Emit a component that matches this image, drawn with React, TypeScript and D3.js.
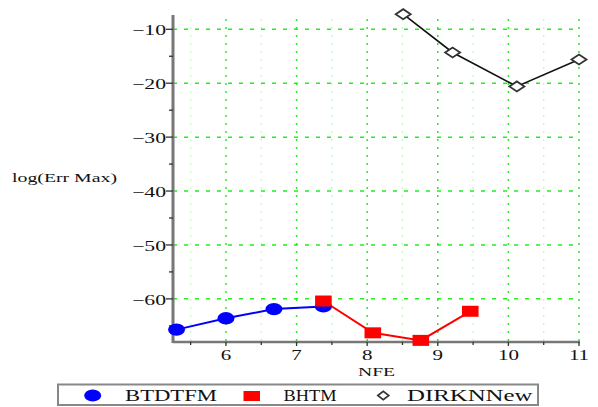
import React from 'react';
import * as d3 from 'd3';

const btdtfmX = [5.3, 6.0, 6.68, 7.38];
const btdtfmY = [-65.7, -63.6, -61.9, -61.4];
const bhtmX = [7.38, 8.08, 8.76, 9.46];
const bhtmY = [-60.4, -66.3, -67.7, -62.3];
const dirkX = [8.51, 9.21, 10.12, 11.0];
const dirkY = [-7.2, -14.3, -20.6, -15.6];
const xTicks = [6, 7, 8, 9, 10, 11];
const xMinorTicks = [5.5, 6.5, 7.5, 8.5, 9.5, 10.5];
const yTicks = [-10, -20, -30, -40, -50, -60];
const yMinorTicks = [-15, -25, -35, -45, -55, -65];
const seriesNames = ['BTDTFM', 'BHTM', 'DIRKNNew'];
const xLabel = 'NFE';
const yLabel = 'log(Err Max)';

const FONT = '"Liberation Serif", "Times New Roman", serif';
const SX = 1.5;

export default function App() {
  const x = d3.scaleLinear().domain([5.25, 11]).range([173, 579]);
  const y = d3.scaleLinear().domain([-68, -7.2]).range([342, 14.2]);
  const [y0, y1] = y.range();
  const [x0, x1] = x.range();
  const line = d3
    .line<[number, number]>()
    .x((d) => x(d[0]))
    .y((d) => y(d[1]));
  const s1 = btdtfmX.map((v, i) => [v, btdtfmY[i]] as [number, number]);
  const s2 = bhtmX.map((v, i) => [v, bhtmY[i]] as [number, number]);
  const s3 = dirkX.map((v, i) => [v, dirkY[i]] as [number, number]);
  const diamond = (cx: number, cy: number, w: number, h: number) =>
    `M${cx - w / 2},${cy} L${cx},${cy - h / 2} L${cx + w / 2},${cy} L${cx},${cy + h / 2} Z`;

  return (
    <svg
      width={598}
      height={407}
      style={{ position: 'absolute', left: 0, top: 0, background: '#fff' }}
      fontFamily={FONT}
    >
      <rect x={0} y={0} width={598} height={407} fill="#fff" />
      {/* minor vertical grid */}
      {xMinorTicks.map((t) => (
        <line key={'mv' + t} x1={x(t)} x2={x(t)} y1={19} y2={y0} stroke="#bbffbb" strokeWidth={1.3} strokeDasharray="2,6" />
      ))}
      {/* major vertical grid */}
      {xTicks.map((t) => (
        <line key={'v' + t} x1={x(t)} x2={x(t)} y1={19} y2={y0} stroke="#22ee22" strokeWidth={1.5} strokeDasharray="2,6" />
      ))}
      {/* major horizontal grid */}
      {yTicks.map((t) => (
        <line key={'h' + t} x1={x0} x2={x1 + 1} y1={y(t)} y2={y(t)} stroke="#22ee22" strokeWidth={1.5} strokeDasharray="4,7" />
      ))}
      {/* axes */}
      <line x1={x0} x2={x0} y1={15} y2={y0 + 1} stroke="#777" strokeWidth={3} />
      <line x1={x0} x2={x1 + 1} y1={y0} y2={y0} stroke="#777" strokeWidth={2.5} />
      {yTicks.map((t) => (
        <g key={'yt' + t}>
          <line x1={x0 - 7} x2={x0} y1={y(t)} y2={y(t)} stroke="#333" strokeWidth={1.3} />
          <text
            transform={`translate(${x0 - 7},${y(t) + 6}) scale(${SX},1)`}
            textAnchor="end"
            fontSize={14.5}
            fill="#111"
          >
            {'\u2212' + Math.abs(t)}
          </text>
        </g>
      ))}
      {yMinorTicks.map((t) => (
        <line key={'ymt' + t} x1={x0 - 4} x2={x0} y1={y(t)} y2={y(t)} stroke="#333" strokeWidth={1.3} />
      ))}
      {xTicks.map((t) => (
        <g key={'xt' + t}>
          <line x1={x(t)} x2={x(t)} y1={y0} y2={y0 + 4} stroke="#333" strokeWidth={1.3} />
          <text
            transform={`translate(${x(t)},${y0 + 18}) scale(${SX},1)`}
            textAnchor="middle"
            fontSize={14}
            fill="#111"
          >
            {t}
          </text>
        </g>
      ))}
      {xMinorTicks.map((t) => (
        <line key={'xmt' + t} x1={x(t)} x2={x(t)} y1={y0} y2={y0 + 3} stroke="#333" strokeWidth={1.3} />
      ))}
      {/* axis labels */}
      <text x={358} y={376} fontSize={13.5} textLength={37} lengthAdjust="spacingAndGlyphs" fill="#111">
        {xLabel}
      </text>
      <text x={12} y={182} fontSize={13.5} textLength={105} lengthAdjust="spacingAndGlyphs" fill="#111">
        {yLabel}
      </text>
      {/* series lines */}
      <path d={line(s1) || ''} fill="none" stroke="#0000ff" strokeWidth={2} />
      <path d={line(s2) || ''} fill="none" stroke="#ff0000" strokeWidth={2} />
      <path d={line(s3) || ''} fill="none" stroke="#111" strokeWidth={1.6} />
      {s1.map((d, i) => (
        <ellipse key={'c' + i} cx={x(d[0])} cy={y(d[1])} rx={8.5} ry={6.2} fill="#0000ff" />
      ))}
      {s2.map((d, i) => (
        <rect key={'r' + i} x={x(d[0]) - 8.3} y={y(d[1]) - 5.5} width={16.6} height={11} fill="#ff0000" />
      ))}
      {s3.map((d, i) => (
        <path key={'d' + i} d={diamond(x(d[0]), y(d[1]), 15, 10)} fill="#fff" stroke="#333" strokeWidth={1.8} />
      ))}
      {/* legend */}
      <rect x={58} y={384.5} width={480} height={20.5} fill="#fff" stroke="#888" strokeWidth={2} />
      <ellipse cx={92.7} cy={395.5} rx={8.5} ry={6} fill="#0000ff" />
      <text x={125} y={401} fontSize={16} textLength={92} lengthAdjust="spacingAndGlyphs" fill="#111">
        {seriesNames[0]}
      </text>
      <rect x={243.5} y={391} width={16.5} height={10} fill="#ff0000" />
      <text x={283.5} y={401} fontSize={16} textLength={53} lengthAdjust="spacingAndGlyphs" fill="#111">
        {seriesNames[1]}
      </text>
      <path d={diamond(383.3, 395.5, 11, 8.5)} fill="#fff" stroke="#333" strokeWidth={1.6} />
      <text x={407} y={401} fontSize={16} textLength={125.5} lengthAdjust="spacingAndGlyphs" fill="#111">
        {seriesNames[2]}
      </text>
    </svg>
  );
}
